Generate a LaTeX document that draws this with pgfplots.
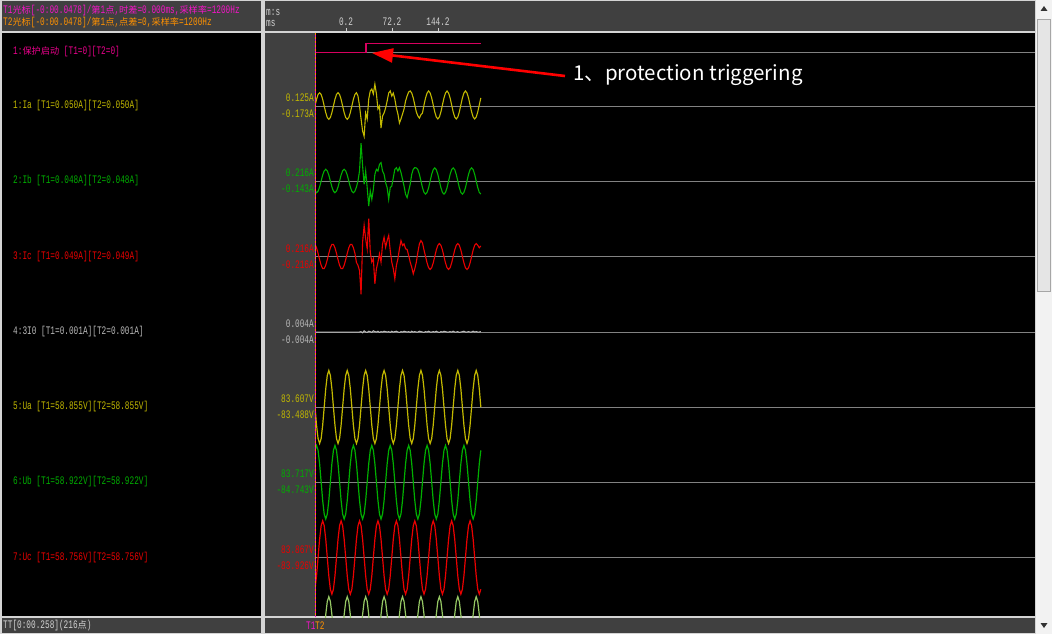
\documentclass[border=0pt]{standalone}
\usepackage{fontspec}
\usepackage{pgfplots}
\pgfplotsset{compat=1.18}
\usepackage{pgfplotstable}
\usetikzlibrary{arrows.meta}

\newfontfamily\pixfont[FakeStretch=0.675]{Liberation Mono}
\newfontfamily\cjk[Scale=0.80]{Noto Sans CJK SC}
\newfontfamily\annot{Noto Sans CJK SC}
\newcommand\px{\fontsize{11.5}{12}\pixfont}
\newcommand\zh[1]{{\cjk #1}}

\definecolor{cy}{RGB}{195,185,0}
\definecolor{cg}{RGB}{0,175,0}
\definecolor{cr}{RGB}{235,0,0}
\definecolor{cw}{RGB}{185,185,185}
\definecolor{clg}{RGB}{150,200,100}
\definecolor{cpk}{RGB}{235,0,140}
\definecolor{ctrig}{RGB}{215,0,95}
\definecolor{cmag}{RGB}{245,20,200}
\definecolor{corg}{RGB}{255,145,0}
\definecolor{hdr}{RGB}{64,64,64}
\definecolor{frm}{RGB}{212,212,212}
\definecolor{grd}{RGB}{130,130,130}
\definecolor{txt}{RGB}{210,210,210}

% protection start signal (0/1), time in ms
\pgfplotstableread{
t s
-47.8 0
31.6 0
31.6 1
210.1 1
}\tTrig

% sampled channels, one value per sample (dt = 2.39 ms from -47.8 ms)
\pgfplotstableread[row sep=\\,header=false]{
0\\.038\\.066\\.076\\.066\\.038\\0\\-.038\\-.066\\-.076\\-.066\\-.038\\
0\\.038\\.066\\.076\\.066\\.038\\0\\-.038\\-.066\\-.076\\-.066\\-.038\\
0\\.038\\.066\\.076\\.057\\0\\-.074\\-.143\\-.173\\-.040\\-.074\\.040\\
.086\\.097\\.069\\.125\\.069\\-.017\\0\\-.126\\-.057\\-.040\\-.011\\.029\\
.074\\.086\\.057\\.074\\.040\\-.011\\-.046\\-.097\\-.074\\-.046\\-.017\\.029\\
.057\\.080\\.086\\.074\\.046\\.006\\-.034\\-.057\\-.069\\-.050\\-.040\\.006\\
.046\\.074\\.086\\.074\\.046\\.006\\-.034\\-.063\\-.074\\-.063\\-.034\\.006\\
.046\\.074\\.086\\.074\\.046\\.006\\-.034\\-.063\\-.074\\-.063\\-.034\\.006\\
.046\\.074\\.086\\.074\\.046\\.006\\-.034\\-.063\\-.074\\-.063\\-.034\\.006\\
.046\\
}\tIa

\pgfplotstableread[row sep=\\,header=false]{
-.058\\-.067\\-.058\\-.034\\0\\.034\\.058\\.067\\.058\\.034\\0\\-.034\\
-.058\\-.067\\-.058\\-.034\\0\\.034\\.058\\.067\\.058\\.034\\0\\-.034\\
-.058\\-.067\\-.058\\-.034\\0\\.057\\.216\\.086\\-.019\\.057\\-.038\\-.143\\
-.057\\-.105\\-.048\\.038\\.067\\.057\\.095\\.105\\.057\\.038\\-.010\\-.038\\
-.105\\-.038\\-.029\\.019\\.067\\.076\\.057\\.076\\.048\\.010\\-.029\\-.076\\
-.095\\-.057\\-.019\\.038\\.067\\.076\\.075\\.065\\.038\\0\\-.038\\-.065\\
-.075\\-.065\\-.038\\0\\.038\\.065\\.075\\.065\\.038\\0\\-.038\\-.065\\
-.075\\-.065\\-.038\\0\\.038\\.065\\.075\\.065\\.038\\0\\-.038\\-.065\\
-.075\\-.065\\-.038\\0\\.038\\.065\\.075\\.065\\.038\\0\\-.038\\-.065\\
-.075\\
}\tIb

\pgfplotstableread[row sep=\\,header=false]{
.069\\.050\\.018\\-.018\\-.050\\-.069\\-.069\\-.050\\-.018\\.018\\.050\\.069\\
.069\\.050\\.018\\-.018\\-.050\\-.069\\-.069\\-.050\\-.018\\.018\\.050\\.069\\
.069\\.050\\.018\\-.034\\-.051\\-.080\\-.216\\.082\\.177\\.101\\.044\\.216\\
.025\\-.032\\-.013\\-.156\\-.070\\-.032\\.015\\-.032\\.072\\.110\\.053\\.091\\
.120\\.034\\-.032\\-.070\\-.128\\-.051\\-.013\\.044\\.091\\.063\\.072\\.044\\
.040\\.006\\-.032\\-.061\\-.099\\-.070\\-.032\\.025\\.072\\.091\\.078\\.037\\
0\\-.037\\-.064\\-.074\\-.064\\-.037\\0\\.037\\.064\\.074\\.064\\.037\\
0\\-.037\\-.064\\-.074\\-.064\\-.037\\0\\.037\\.064\\.074\\.064\\.037\\
0\\-.037\\-.064\\-.074\\-.064\\-.037\\0\\.037\\.064\\.074\\.064\\.050\\
.060\\
}\tIc

\pgfplotstableread[row sep=\\,header=false]{
0\\0\\0\\0\\0\\0\\0\\0\\0\\0\\0\\0\\
0\\0\\0\\0\\0\\0\\0\\0\\0\\0\\0\\0\\
0\\0\\0\\0\\0\\0\\.001\\-.002\\.003\\0\\-.001\\.002\\
.001\\-.001\\.003\\.001\\0\\.002\\-.001\\.001\\0\\.002\\.001\\0\\
.001\\-.001\\.002\\0\\.001\\.002\\0\\-.001\\.001\\0\\.002\\.001\\
0\\.001\\-.001\\.002\\0\\.001\\0\\0\\.002\\.001\\0\\-.001\\
.001\\0\\.002\\0\\0\\.001\\0\\.002\\0\\-.001\\.001\\0\\
.002\\.001\\0\\0\\.001\\0\\.002\\0\\0\\.001\\-.001\\0\\
.001\\.002\\0\\0\\.001\\0\\0\\.002\\0\\.001\\0\\0\\
.001\\
}\tIo

\pgfplotstableread[row sep=\\,header=false]{
0\\-41.7\\-72.3\\-83.5\\-72.3\\-41.7\\0\\41.8\\72.4\\83.6\\72.4\\41.8\\
0\\-41.7\\-72.3\\-83.5\\-72.3\\-41.7\\0\\41.8\\72.4\\83.6\\72.4\\41.8\\
0\\-41.7\\-72.3\\-83.5\\-72.3\\-41.7\\0\\41.8\\72.4\\83.6\\72.4\\41.8\\
0\\-41.7\\-72.3\\-83.5\\-72.3\\-41.7\\0\\41.8\\72.4\\83.6\\72.4\\41.8\\
0\\-41.7\\-72.3\\-83.5\\-72.3\\-41.7\\0\\41.8\\72.4\\83.6\\72.4\\41.8\\
0\\-41.7\\-72.3\\-83.5\\-72.3\\-41.7\\0\\41.8\\72.4\\83.6\\72.4\\41.8\\
0\\-41.7\\-72.3\\-83.5\\-72.3\\-41.7\\0\\41.8\\72.4\\83.6\\72.4\\41.8\\
0\\-41.7\\-72.3\\-83.5\\-72.3\\-41.7\\0\\41.8\\72.4\\83.6\\72.4\\41.8\\
0\\-41.7\\-72.3\\-83.5\\-72.3\\-41.7\\0\\41.8\\72.4\\83.6\\72.4\\41.8\\
0\\
}\tUa

\pgfplotstableread[row sep=\\,header=false]{
72.5\\83.7\\72.5\\41.9\\0\\-42.4\\-73.4\\-84.7\\-73.4\\-42.4\\0\\41.9\\
72.5\\83.7\\72.5\\41.9\\0\\-42.4\\-73.4\\-84.7\\-73.4\\-42.4\\0\\41.9\\
72.5\\83.7\\72.5\\41.9\\0\\-42.4\\-73.4\\-84.7\\-73.4\\-42.4\\0\\41.9\\
72.5\\83.7\\72.5\\41.9\\0\\-42.4\\-73.4\\-84.7\\-73.4\\-42.4\\0\\41.9\\
72.5\\83.7\\72.5\\41.9\\0\\-42.4\\-73.4\\-84.7\\-73.4\\-42.4\\0\\41.9\\
72.5\\83.7\\72.5\\41.9\\0\\-42.4\\-73.4\\-84.7\\-73.4\\-42.4\\0\\41.9\\
72.5\\83.7\\72.5\\41.9\\0\\-42.4\\-73.4\\-84.7\\-73.4\\-42.4\\0\\41.9\\
72.5\\83.7\\72.5\\41.9\\0\\-42.4\\-73.4\\-84.7\\-73.4\\-42.4\\0\\41.9\\
72.5\\83.7\\72.5\\41.9\\0\\-42.4\\-73.4\\-84.7\\-73.4\\-42.4\\0\\41.9\\
72.5\\
}\tUb

\pgfplotstableread[row sep=\\,header=false]{
-72.7\\-42.0\\0\\42.0\\72.7\\83.9\\72.7\\42.0\\0\\-42.0\\-72.7\\-83.9\\
-72.7\\-42.0\\0\\42.0\\72.7\\83.9\\72.7\\42.0\\0\\-42.0\\-72.7\\-83.9\\
-72.7\\-42.0\\0\\42.0\\72.7\\83.9\\72.7\\42.0\\0\\-42.0\\-72.7\\-83.9\\
-72.7\\-42.0\\0\\42.0\\72.7\\83.9\\72.7\\42.0\\0\\-42.0\\-72.7\\-83.9\\
-72.7\\-42.0\\0\\42.0\\72.7\\83.9\\72.7\\42.0\\0\\-42.0\\-72.7\\-83.9\\
-72.7\\-42.0\\0\\42.0\\72.7\\83.9\\72.7\\42.0\\0\\-42.0\\-72.7\\-83.9\\
-72.7\\-42.0\\0\\42.0\\72.7\\83.9\\72.7\\42.0\\0\\-42.0\\-72.7\\-83.9\\
-72.7\\-42.0\\0\\42.0\\72.7\\83.9\\72.7\\42.0\\0\\-42.0\\-72.7\\-83.9\\
-72.7\\-42.0\\0\\42.0\\72.7\\83.9\\72.7\\42.0\\0\\-42.0\\-72.7\\-83.9\\
-72.7\\
}\tUc

\pgfplotstableread[row sep=\\,header=false]{
0\\-41\\-71\\-82\\-71\\-41\\0\\41\\71\\82\\71\\41\\
0\\-41\\-71\\-82\\-71\\-41\\0\\41\\71\\82\\71\\41\\
0\\-41\\-71\\-82\\-71\\-41\\0\\41\\71\\82\\71\\41\\
0\\-41\\-71\\-82\\-71\\-41\\0\\41\\71\\82\\71\\41\\
0\\-41\\-71\\-82\\-71\\-41\\0\\41\\71\\82\\71\\41\\
0\\-41\\-71\\-82\\-71\\-41\\0\\41\\71\\82\\71\\41\\
0\\-41\\-71\\-82\\-71\\-41\\0\\41\\71\\82\\71\\41\\
0\\-41\\-71\\-82\\-71\\-41\\0\\41\\71\\82\\71\\41\\
0\\-41\\-71\\-82\\-71\\-41\\0\\41\\71\\82\\71\\41\\
0\\
}\tUx

\begin{document}
\begin{tikzpicture}[x=1pt,y=1pt]
  % window frame and panels
  \fill[frm] (0,0) rectangle (1052,-634);
  \useasboundingbox (0,0) rectangle (1052,-634);
  \fill[hdr] (2,-1) rectangle (261,-31);
  \fill[black] (2,-33) rectangle (261,-616);
  \fill[hdr] (2,-618) rectangle (261,-633);
  \fill[hdr] (265,-1) rectangle (1035,-31);
  \fill[hdr] (265,-33) rectangle (315,-616);
  \fill[black] (315,-33) rectangle (1035,-616);
  \fill[hdr] (265,-618) rectangle (1035,-633);
  % scrollbar
  \fill[white!95!black] (1036,0) rectangle (1052,-634);
  \draw[gray!70, fill=white!90!black] (1037.5,-19) rectangle (1050.5,-291);
  \fill[black!80] (1044,-6) -- (1040.5,-11) -- (1047.5,-11) -- cycle;
  \fill[black!80] (1044,-628) -- (1040.5,-623) -- (1047.5,-623) -- cycle;

  % header texts
  \node[anchor=west, inner sep=0, font=\px, text=cmag] at (3,-11)
    {T1\zh{光标}[-0:00.0478]/\zh{第}1\zh{点},\zh{时差}=0.000ms,\zh{采样率}=1200Hz};
  \node[anchor=west, inner sep=0, font=\px, text=corg] at (3,-23)
    {T2\zh{光标}[-0:00.0478]/\zh{第}1\zh{点},\zh{点差}=0,\zh{采样率}=1200Hz};
  \node[anchor=west, inner sep=0, font=\px, text=txt] at (3,-626)
    {TT[0:00.258](216\zh{点})};
  \node[anchor=west, inner sep=0, font=\px, text=txt] at (266,-12) {m:s};
  \node[anchor=west, inner sep=0, font=\px, text=txt] at (266,-23) {ms};
  \foreach \xx/\lab in {346/0.2, 392/72.2, 438/144.2} {
    \node[inner sep=0, font=\px, text=txt] at (\xx,-22) {\lab};
    \draw[txt] (\xx,-28.5) -- (\xx,-31);
  }

  % channel names
  \begin{scope}[every node/.style={anchor=west, inner sep=0, font=\px}]
    \node[text=cpk] at (13,-52) {1:\zh{保护启动} [T1=0][T2=0]};
    \node[text=cy] at (13,-106) {1:Ia [T1=0.050A][T2=0.050A]};
    \node[text=cg] at (13,-181) {2:Ib [T1=0.048A][T2=0.048A]};
    \node[text=cr] at (13,-256.5) {3:Ic [T1=0.049A][T2=0.049A]};
    \node[text=cw] at (13,-332) {4:3I0 [T1=0.001A][T2=0.001A]};
    \node[text=cy] at (13,-407) {5:Ua [T1=58.855V][T2=58.855V]};
    \node[text=cg] at (13,-482) {6:Ub [T1=58.922V][T2=58.922V]};
    \node[text=cr] at (13,-557.5) {7:Uc [T1=58.756V][T2=58.756V]};
  \end{scope}

  \begin{axis}[
    at={(315pt,-617pt)}, anchor=south west,
    scale only axis, width=720pt, height=584pt,
    xmin=-47.8, xmax=1073, ymin=-617, ymax=-33,
    axis line style={draw=none},
    xtick=\empty,
    major tick length=0pt,
    ytick={-565.5,-549.5,-490,-474,-415,-399,-340,-324,-264.5,-248.5,-189,-173,-114,-98},
    yticklabels={\textcolor{cr}{-83.926V},\textcolor{cr}{83.867V},
      \textcolor{cg}{-84.743V},\textcolor{cg}{83.717V},
      \textcolor{cy}{-83.488V},\textcolor{cy}{83.607V},
      \textcolor{cw}{-0.004A},\textcolor{cw}{0.004A},
      \textcolor{cr}{-0.216A},\textcolor{cr}{0.216A},
      \textcolor{cg}{-0.143A},\textcolor{cg}{0.216A},
      \textcolor{cy}{-0.173A},\textcolor{cy}{0.125A}},
    yticklabel style={font=\px, inner sep=1pt},
    extra y ticks={-557.5,-482,-407,-332,-256.5,-181,-106,-52},
    extra y tick labels={},
    extra y tick style={grid=major},
    major grid style={draw=grd, line width=0.9pt},
  ]
    \addplot[ctrig, line width=1.3pt] table[x=t, y expr=\thisrow{s}*9-52.3] {\tTrig};
    \addplot[cy, line width=1.1pt] table[x index=0, y index=0, x expr=\coordindex*2.39-47.8, y expr=\thisrowno{0}*175-106] {\tIa};
    \addplot[cg, line width=1.1pt] table[x index=0, y index=0, x expr=\coordindex*2.39-47.8, y expr=\thisrowno{0}*175-181] {\tIb};
    \addplot[cr, line width=1.1pt] table[x index=0, y index=0, x expr=\coordindex*2.39-47.8, y expr=\thisrowno{0}*175-256.5] {\tIc};
    \addplot[cw, line width=1pt] table[x index=0, y index=0, x expr=\coordindex*2.39-47.8, y expr=\thisrowno{0}*400-332] {\tIo};
    \addplot[cy, line width=1.2pt] table[x index=0, y index=0, x expr=\coordindex*2.39-47.8, y expr=\thisrowno{0}*0.437-407] {\tUa};
    \addplot[cg, line width=1.2pt] table[x index=0, y index=0, x expr=\coordindex*2.39-47.8, y expr=\thisrowno{0}*0.437-482] {\tUb};
    \addplot[cr, line width=1.2pt] table[x index=0, y index=0, x expr=\coordindex*2.39-47.8, y expr=\thisrowno{0}*0.437-557.5] {\tUc};
    \addplot[clg, line width=1.2pt] table[x index=0, y index=0, x expr=\coordindex*2.39-47.8, y expr=\thisrowno{0}*0.437-632.5] {\tUx};
  \end{axis}

  % cursors T1/T2
  \draw[cmag, line width=1pt] (315,-33) -- (315,-617);
  \draw[corg, line width=1pt, dash pattern=on 2pt off 2pt] (315,-33) -- (315,-617);
  \node[anchor=west, inner sep=0, font=\px, text=cmag] at (306,-626) {T1};
  \node[anchor=west, inner sep=0, font=\px, text=corg] at (315,-626) {T2};

  % annotation
  \draw[red, line width=2.6pt, -{Triangle[length=21pt,width=14pt]}] (565,-76) -- (372,-53);
  \node[anchor=base west, inner sep=0, text=white, font=\fontsize{20.5}{22}\annot] at (573,-81)
    {1、protection triggering};
\end{tikzpicture}
\end{document}
